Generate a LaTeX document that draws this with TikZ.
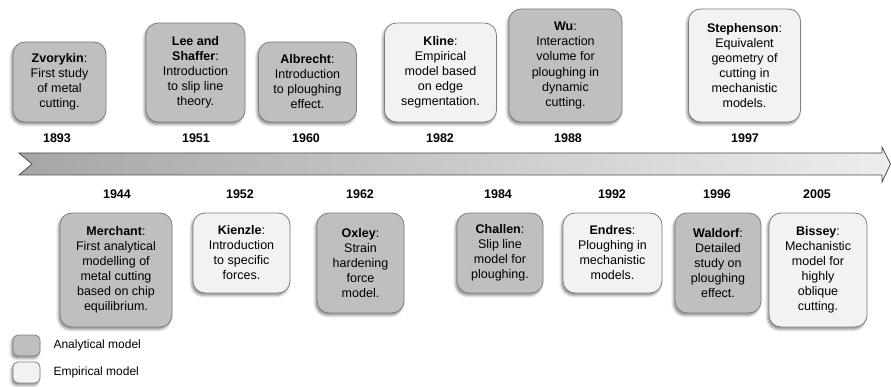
\documentclass[tikz,border=0pt]{standalone}
\usepackage{fontspec}
\setmainfont{Liberation Sans}
\usetikzlibrary{shadows.blur}
\definecolor{anafill}{HTML}{BFBFBF}
\definecolor{empfill}{HTML}{F2F2F2}
\definecolor{boxline}{HTML}{7F7F7F}
\definecolor{arrowline}{HTML}{4D4D4D}
\definecolor{arrowdark}{HTML}{A6A6A6}
\definecolor{arrowlight}{HTML}{EDEDED}
\tikzset{
  card/.style={draw=boxline, line width=0.8pt, rounded corners=12pt, align=center,
    inner sep=0pt, font=\fontsize{12.5}{15}\selectfont,
    blur shadow={shadow xshift=-1.5pt, shadow yshift=-2.5pt, shadow blur radius=2.5pt, shadow opacity=45}},
  ana/.style={card, fill=anafill},
  emp/.style={card, fill=empfill},
  year/.style={font=\fontsize{12.5}{15}\selectfont\bfseries},
  legbox/.style={card, rounded corners=5pt, minimum width=27pt, minimum height=21pt},
  legtext/.style={anchor=west, font=\fontsize{12}{14}\selectfont},
}
\begin{document}
\begin{tikzpicture}[x=1pt, y=-1pt]
\useasboundingbox (0,0) rectangle (891,387);

% timeline arrow
\path[draw=arrowline, line width=0.8pt, left color=arrowdark, right color=arrowlight, line join=miter]
  (19,153) -- (882,153) -- (882,147) -- (890.5,164) -- (882,182) -- (882,175) -- (19,175) -- (32,164) -- cycle;

% top row
\node[ana, minimum width=93pt, minimum height=80pt] (zvo) at (59.5,82)
  {\textbf{Zvorykin}:\\First study\\of metal\\cutting.};
\node[ana, minimum width=99pt, minimum height=99pt] (lee) at (195.5,72.5)
  {\textbf{Lee and}\\\textbf{Shaffer}:\\Introduction\\to slip line\\theory.};
\node[ana, minimum width=98pt, minimum height=80pt] (alb) at (307.5,82)
  {\textbf{Albrecht}:\\Introduction\\to ploughing\\effect.};
\node[emp, minimum width=112pt, minimum height=99pt] (kli) at (440.5,72.5)
  {\textbf{Kline}:\\Empirical\\model based\\on edge\\segmentation.};
\node[ana, minimum width=113pt, minimum height=113pt] (wu) at (565.5,65.5)
  {\textbf{Wu}:\\Interaction\\volume for\\ploughing in\\dynamic\\cutting.};
\node[emp, minimum width=112pt, minimum height=113pt] (ste) at (744.5,65.5)
  {\textbf{Stephenson}:\\Equivalent\\geometry of\\cutting in\\mechanistic\\models.};

\node[year] (y1893) at (57,138) {1893};
\node[year] (y1951) at (196,138) {1951};
\node[year] (y1960) at (306,138) {1960};
\node[year] (y1982) at (440,138) {1982};
\node[year] (y1988) at (568,138) {1988};
\node[year] (y1997) at (745,138) {1997};

% bottom row
\node[year] (y1944) at (117,194) {1944};
\node[year] (y1952) at (240,194) {1952};
\node[year] (y1962) at (360,194) {1962};
\node[year] (y1984) at (498,194) {1984};
\node[year] (y1992) at (612,194) {1992};
\node[year] (y1996) at (717,194) {1996};
\node[year] (y2005) at (817,194) {2005};

\node[ana, minimum width=112pt, minimum height=114pt] (mer) at (116,270)
  {\textbf{Merchant}:\\First analytical\\modelling of\\metal cutting\\based on chip\\equilibrium.};
\node[emp, minimum width=97pt, minimum height=80pt] (kie) at (241.5,253)
  {\textbf{Kienzle}:\\Introduction\\to specific\\forces.};
\node[ana, minimum width=87pt, minimum height=100pt] (oxl) at (360.5,263)
  {\textbf{Oxley}:\\Strain\\hardening\\force\\model.};
\node[ana, minimum width=86pt, minimum height=80pt] (cha) at (500,253)
  {\textbf{Challen}:\\Slip line\\model for\\ploughing.};
\node[emp, minimum width=99pt, minimum height=80pt] (end) at (612.5,253)
  {\textbf{Endres}:\\Ploughing in\\mechanistic\\models.};
\node[ana, minimum width=86pt, minimum height=100pt] (wal) at (718,263)
  {\textbf{Waldorf}:\\Detailed\\study on\\ploughing\\effect.};
\node[emp, minimum width=98pt, minimum height=114pt] (bis) at (818,270)
  {\textbf{Bissey}:\\Mechanistic\\model for\\highly\\oblique\\cutting.};

% legend
\node[legbox, fill=anafill] (lega) at (26.5,345.5) {};
\node[legtext] (legat) at (50,345.5) {Analytical model};
\node[legbox, fill=empfill] (lege) at (26.5,372.5) {};
\node[legtext] (leget) at (50,372.5) {Empirical model};
\end{tikzpicture}
\end{document}
